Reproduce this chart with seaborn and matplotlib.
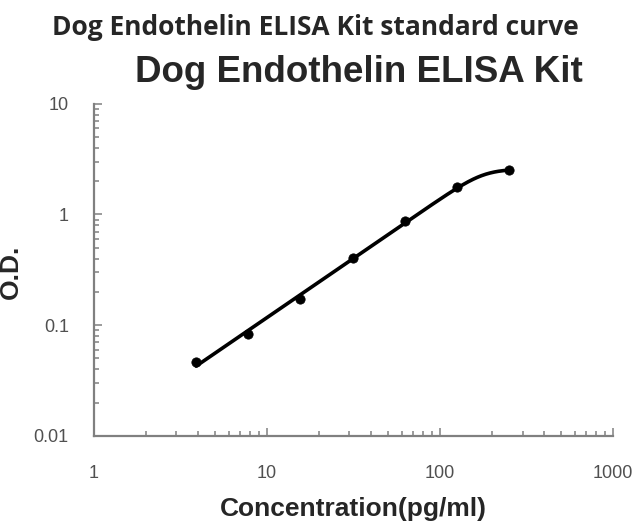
import matplotlib
matplotlib.use('Agg')
import matplotlib.pyplot as plt
from matplotlib.ticker import FixedLocator, FixedFormatter, LogLocator, NullFormatter
import numpy as np
import pandas as pd
import seaborn as sns

# standard curve readings
concentration = [3.9, 7.8, 15.6, 31.25, 62.5, 125, 250]
od = [0.046, 0.084, 0.173, 0.406, 0.869, 1.755, 2.5]

x_ticks = [1, 10, 100, 1000]
x_labels = ['1', '10', '100', '1000']
y_ticks = [0.01, 0.1, 1, 10]
y_labels = ['0.01', '0.1', '1', '10']

sns.set_style('white')
plt.rcParams['font.family'] = ['Liberation Sans', 'DejaVu Sans']

df = pd.DataFrame({'conc': concentration, 'od': od})


def FitCurve(xs, ys, n=300):
    """
    Logistic-type standard curve y = d / (1 + (c/x)^b)^g, least squares in log
    space by a plain grid search (d solved directly).
    """
    x = np.asarray(xs, dtype=float)
    ly = np.log10(np.asarray(ys, dtype=float))
    B, C, G = np.meshgrid(np.linspace(0.5, 8, 61),
                          np.logspace(1, 3.3, 80),
                          np.linspace(0.05, 1.5, 59), indexing='ij')
    term = G[..., None] * np.log10(1 + (C[..., None] / x) ** B[..., None])
    logd = (ly + term).mean(axis=-1)
    err = ((logd[..., None] - term - ly) ** 2).sum(axis=-1)
    i = np.unravel_index(np.argmin(err), err.shape)
    b, c, g, ld = B[i], C[i], G[i], logd[i]
    gx = np.logspace(np.log10(x.min()), np.log10(x.max()), n)
    gy = 10 ** (ld - g * np.log10(1 + (c / gx) ** b))
    return pd.DataFrame({'conc': gx, 'od': gy})


fit = FitCurve(df['conc'], df['od'])

fig = plt.figure(figsize=(6.34, 5.27), dpi=100)
ax = fig.add_axes([0.148, 0.173, 0.819, 0.630])

sns.lineplot(data=fit, x='conc', y='od', ax=ax, color='black', linewidth=2.6)
sns.scatterplot(data=df, x='conc', y='od', ax=ax, color='black', s=45,
                edgecolor='black', zorder=3)

ax.set_xscale('log')
ax.set_yscale('log')
ax.set_xlim(1, 1000)
ax.set_ylim(0.01, 10)

ax.xaxis.set_major_locator(FixedLocator(x_ticks))
ax.xaxis.set_major_formatter(FixedFormatter(x_labels))
ax.yaxis.set_major_locator(FixedLocator(y_ticks))
ax.yaxis.set_major_formatter(FixedFormatter(y_labels))
ax.xaxis.set_minor_locator(LogLocator(base=10, subs=np.arange(2, 10)))
ax.yaxis.set_minor_locator(LogLocator(base=10, subs=np.arange(2, 10)))
ax.xaxis.set_minor_formatter(NullFormatter())
ax.yaxis.set_minor_formatter(NullFormatter())

for s in ['top', 'right']:
    ax.spines[s].set_visible(False)
for s in ['left', 'bottom']:
    ax.spines[s].set_color('#808080')
    ax.spines[s].set_linewidth(1.6)

ax.tick_params(axis='both', which='both', direction='in', color='#808080',
               labelcolor='#505050', labelsize=13, width=1.1,
               bottom=True, left=True)
ax.tick_params(axis='both', which='major', length=6)
ax.tick_params(axis='both', which='minor', length=3.5)
ax.tick_params(axis='x', which='major', pad=21)
ax.tick_params(axis='y', which='major', pad=18)

ax.set_xlabel('Concentration(pg/ml)', fontsize=19, fontweight='bold')
ax.set_ylabel('O.D.', fontsize=19, fontweight='bold')
ax.xaxis.set_label_coords(0.5, -0.185)
ax.yaxis.set_label_coords(-0.137, 0.494)

fig.text(0.497, 0.947, 'Dog Endothelin ELISA Kit standard curve', ha='center',
         va='center', fontsize=19, fontweight='bold', family=['Open Sans', 'DejaVu Sans'])
fig.text(0.566, 0.862, 'Dog Endothelin ELISA Kit', ha='center', va='center',
         fontsize=26.5, fontweight='bold')

fig.savefig('out.png', dpi=100)
